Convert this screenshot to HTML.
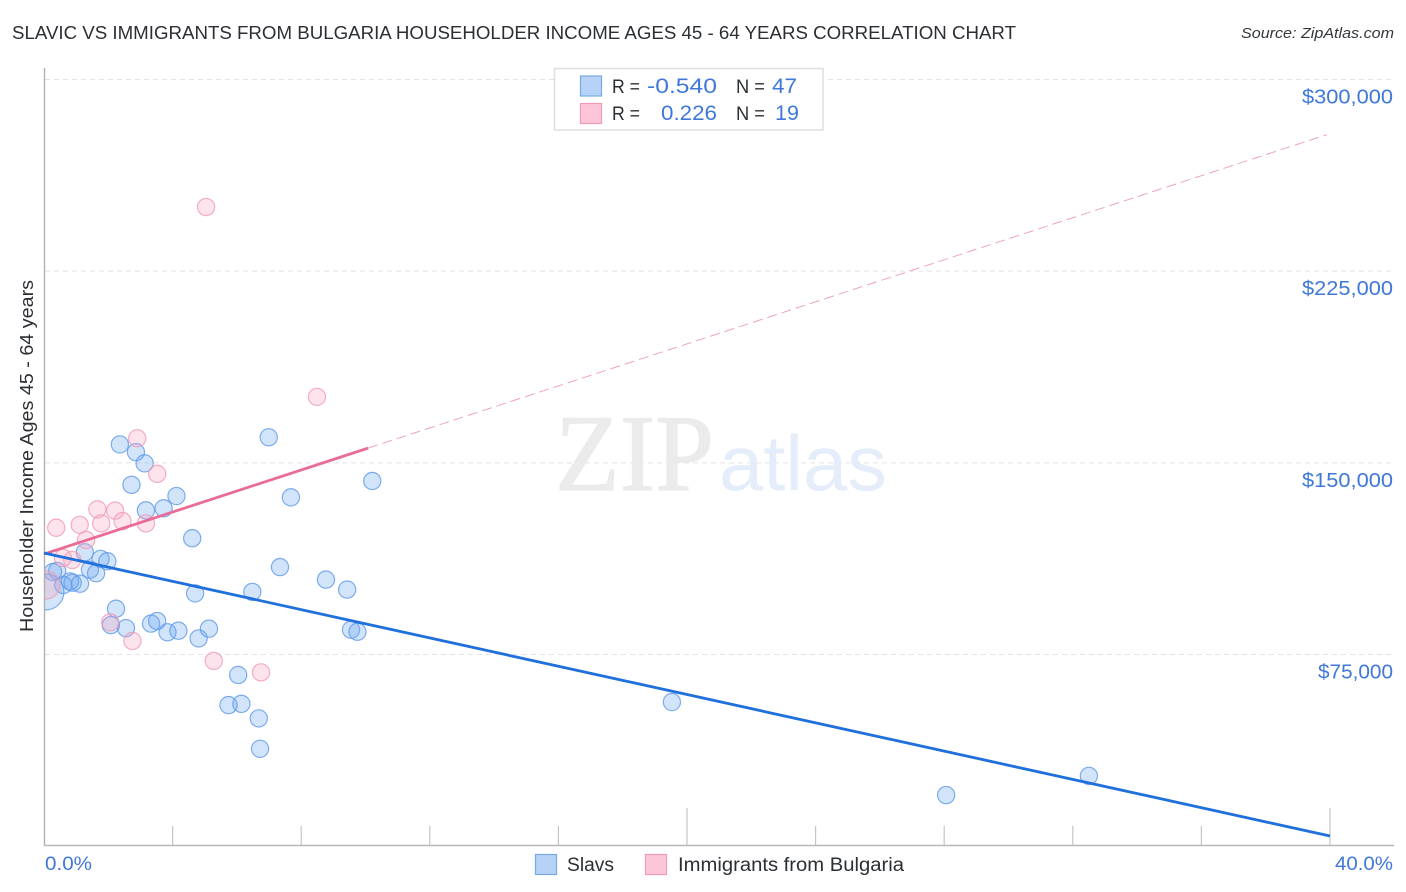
<!DOCTYPE html>
<html lang="en">
<head>
<meta charset="utf-8">
<title>Slavic vs Immigrants from Bulgaria Householder Income Correlation Chart</title>
<style>
  html, body { margin: 0; padding: 0; background: #fff; }
  svg { display: block; }
  text { font-family: "Liberation Sans", sans-serif; }
</style>
</head>
<body>
<svg id="chart" width="1406" height="892" viewBox="0 0 1406 892" xmlns="http://www.w3.org/2000/svg">
  <defs>
    <clipPath id="plot-clip"><rect x="45" y="60" width="1349" height="785"/></clipPath>
  </defs>
  <rect width="1406" height="892" fill="#ffffff"/>

  <text x="12" y="39" font-size="18" fill="#2b2f33" textLength="1004" lengthAdjust="spacingAndGlyphs">SLAVIC VS IMMIGRANTS FROM BULGARIA HOUSEHOLDER INCOME AGES 45 - 64 YEARS CORRELATION CHART</text>
  <text x="1241" y="38" font-size="15" font-style="italic" fill="#33373b" textLength="153" lengthAdjust="spacingAndGlyphs">Source: ZipAtlas.com</text>

  <g id="grid"></g>

  <g>
    <text x="555" y="490" font-size="109" fill="#ebebeb" stroke="#ebebeb" stroke-width="1.2" textLength="159" lengthAdjust="spacingAndGlyphs" style="font-family:'Liberation Serif',serif">ZIP</text>
    <text x="719" y="490" font-size="78" fill="#e4edf9" textLength="168" lengthAdjust="spacingAndGlyphs">atlas</text>
  </g>

  <g id="axes"></g>
  <g id="y-labels"></g>

  <text transform="translate(33,456) rotate(-90)" text-anchor="middle" font-size="18" fill="#2b2f33" textLength="352" lengthAdjust="spacingAndGlyphs">Householder Income Ages 45 - 64 years</text>

  <g id="points" clip-path="url(#plot-clip)"></g>
  <g id="trends"></g>

  <text x="45" y="870" font-size="19" fill="#3f78d8" textLength="47" lengthAdjust="spacingAndGlyphs">0.0%</text>
  <text x="1335" y="870" font-size="19" fill="#3f78d8" textLength="58" lengthAdjust="spacingAndGlyphs">40.0%</text>

  <g>
    <rect x="554.5" y="68.5" width="268.5" height="61.5" fill="#ffffff" stroke="#dedede" stroke-width="1.5"/>
    <rect x="580.5" y="76" width="21" height="20" fill="#b6d3f7" stroke="#78a9e6" stroke-width="1.2"/>
    <rect x="580.5" y="103.5" width="21" height="20" fill="#fdc6d8" stroke="#f09ab5" stroke-width="1.2"/>
    <text x="612" y="93" font-size="19" fill="#2b2f33" textLength="28" lengthAdjust="spacingAndGlyphs">R =</text>
    <text x="647" y="93" font-size="21.5" fill="#3f78d8" textLength="70" lengthAdjust="spacingAndGlyphs">-0.540</text>
    <text x="736" y="93" font-size="19" fill="#2b2f33" textLength="29" lengthAdjust="spacingAndGlyphs">N =</text>
    <text x="772" y="93" font-size="21.5" fill="#3f78d8" textLength="25" lengthAdjust="spacingAndGlyphs">47</text>
    <text x="612" y="120" font-size="19" fill="#2b2f33" textLength="28" lengthAdjust="spacingAndGlyphs">R =</text>
    <text x="661" y="120" font-size="21.5" fill="#3f78d8" textLength="56" lengthAdjust="spacingAndGlyphs">0.226</text>
    <text x="736" y="120" font-size="19" fill="#2b2f33" textLength="29" lengthAdjust="spacingAndGlyphs">N =</text>
    <text x="775" y="120" font-size="21.5" fill="#3f78d8">19</text>
  </g>

  <g>
    <g>
      <rect x="535.5" y="854.5" width="21" height="20" fill="#b6d3f7" stroke="#78a9e6" stroke-width="1.2"/>
      <text x="567" y="871" font-size="19" fill="#2b2f33" textLength="47" lengthAdjust="spacingAndGlyphs">Slavs</text>
    </g>
    <g>
      <rect x="645.5" y="854.5" width="21" height="20" fill="#fdc6d8" stroke="#f09ab5" stroke-width="1.2"/>
      <text x="678" y="871" font-size="19" fill="#2b2f33" textLength="226" lengthAdjust="spacingAndGlyphs">Immigrants from Bulgaria</text>
    </g>
  </g>
</svg>

<script>
// Chart data (x: percent of Immigrants from Bulgaria, y: householder income in dollars)
const slavsX = [0.06, 2.36, 2.86, 3.13, 2.72, 4.12, 3.72, 3.17, 4.61, 6.99, 7.68, 10.21, 7.34, 8.77, 9.43, 6.48, 4.70, 2.24, 2.08, 2.55, 3.33, 3.52, 3.84, 4.18, 4.81, 5.13, 9.55, 9.75, 6.04, 5.74, 6.14, 6.68, 6.72, 19.53, 28.06, 32.50, 1.27, 1.76, 1.97, 1.43, 1.62, 0.81, 0.60, 0.89, 1.12, 0.41, 0.28];
const slavsY = [99500, 157200, 154200, 149800, 141400, 137000, 132200, 131400, 120500, 160000, 136500, 142900, 109200, 104300, 100400, 99500, 98900, 92900, 86500, 85300, 87100, 88100, 83700, 84300, 81300, 85100, 84700, 83900, 67000, 55200, 55700, 50000, 38100, 56400, 20000, 27500, 115000, 112400, 111500, 108200, 106800, 103600, 102200, 103100, 102700, 107700, 107300];
const bulgariaX = [0.06, 2.90, 3.52, 0.38, 1.11, 1.66, 2.21, 1.78, 2.44, 3.17, 1.31, 0.88, 0.59, 2.06, 2.75, 5.28, 6.75, 5.04, 8.49];
const bulgariaY = [102200, 159600, 145700, 124600, 125700, 131800, 131300, 126300, 127200, 126300, 119800, 112000, 112800, 87600, 80300, 72500, 68000, 250100, 175800];
const slavsTrendX = [0, 40];
const slavsTrendY = [114700, 3980];
const bulgariaTrendX = [0, 39.9];
const bulgariaTrendY = [114300, 278400];
const bulgariaSolidEndX = 10.08;
const yTickValues = [300000, 225000, 150000, 75000];
const yTickLabels = ["$300,000", "$225,000", "$150,000", "$75,000"];
const xTickValues = [0, 4, 8, 12, 16, 20, 24, 28, 32, 36, 40];
const xMajorTicks = [20, 40];

function xScale(pct) {
  return 44 + pct * 32.15;
}
function yScale(value) {
  return 654.5 - (value - 75000) * 191.67 / 75000;
}

const NS = "http://www.w3.org/2000/svg";
function make(tag, attrs, parent) {
  const el = document.createElementNS(NS, tag);
  for (const key in attrs) {
    el.setAttribute(key, attrs[key]);
  }
  parent.appendChild(el);
  return el;
}

const gridGroup = document.getElementById("grid");
const axesGroup = document.getElementById("axes");
const yLabelGroup = document.getElementById("y-labels");
const pointsGroup = document.getElementById("points");
const trendsGroup = document.getElementById("trends");

yTickValues.forEach(function (value, i) {
  const y = yScale(value);
  const line = make("line", { x1: 45, x2: 1393, y1: y, y2: y, stroke: "#e4e4e4", "stroke-width": 1, "stroke-dasharray": "5 4" }, gridGroup);
  
  

  const label = make("text", { x: 1393, y: y + 24, "text-anchor": "end", "font-size": 20, fill: "#3f78d8", textLength: yTickLabels[i].length === 8 ? 91 : 75, lengthAdjust: "spacingAndGlyphs" }, yLabelGroup);
  label.textContent = yTickLabels[i];
  
  
});

const yAxis = make("line", { x1: 44.5, x2: 44.5, y1: 68, y2: 846, stroke: "#b0b0b0", "stroke-width": 1.4 }, axesGroup);



const xAxis = make("line", { x1: 44, x2: 1394, y1: 845.5, y2: 845.5, stroke: "#b8b8b8", "stroke-width": 1.4 }, axesGroup);



xTickValues.forEach(function (value) {
  if (value === 0) {
    return;
  }
  const isMajor = xMajorTicks.indexOf(value) !== -1;
  const x = xScale(value);
  const tick = make("line", { x1: x, x2: x, y1: isMajor ? 808 : 826, y2: 845, stroke: "#c4c4c4", "stroke-width": 1.2 }, axesGroup);
  
  
});

function drawPoints(xs, ys, bigRadius, fill, stroke) {
  xs.forEach(function (value, i) {
    const dot = make("circle", {
      cx: xScale(value),
      cy: yScale(ys[i]),
      r: i === 0 ? bigRadius : 8.6,
      fill: fill,
      "fill-opacity": 0.3,
      stroke: stroke,
      "stroke-opacity": 0.8,
      "stroke-width": 1.2
    }, pointsGroup);
    
    
  });
}
drawPoints(slavsX, slavsY, 18, "#6aa5ef", "#5f9ae8");
drawPoints(bulgariaX, bulgariaY, 14, "#f7a6bf", "#f09ab5");

function bulgariaTrendAt(pct) {
  const t = (pct - bulgariaTrendX[0]) / (bulgariaTrendX[1] - bulgariaTrendX[0]);
  return bulgariaTrendY[0] + t * (bulgariaTrendY[1] - bulgariaTrendY[0]);
}

const bulgariaDashed = make("line", {
  x1: xScale(bulgariaSolidEndX),
  y1: yScale(bulgariaTrendAt(bulgariaSolidEndX)),
  x2: xScale(bulgariaTrendX[1]),
  y2: yScale(bulgariaTrendY[1]),
  stroke: "#eea3bc",
  "stroke-width": 1,
  "stroke-dasharray": "10 5"
}, trendsGroup);



const bulgariaSolid = make("line", {
  x1: xScale(bulgariaTrendX[0]),
  y1: yScale(bulgariaTrendY[0]),
  x2: xScale(bulgariaSolidEndX),
  y2: yScale(bulgariaTrendAt(bulgariaSolidEndX)),
  stroke: "#e96c98",
  "stroke-width": 2.8
}, trendsGroup);



const slavsTrend = make("line", {
  x1: xScale(slavsTrendX[0]),
  y1: yScale(slavsTrendY[0]),
  x2: xScale(slavsTrendX[1]),
  y2: yScale(slavsTrendY[1]),
  stroke: "#1f6fdc",
  "stroke-width": 2.8
}, trendsGroup);


</script>
</body>
</html>
